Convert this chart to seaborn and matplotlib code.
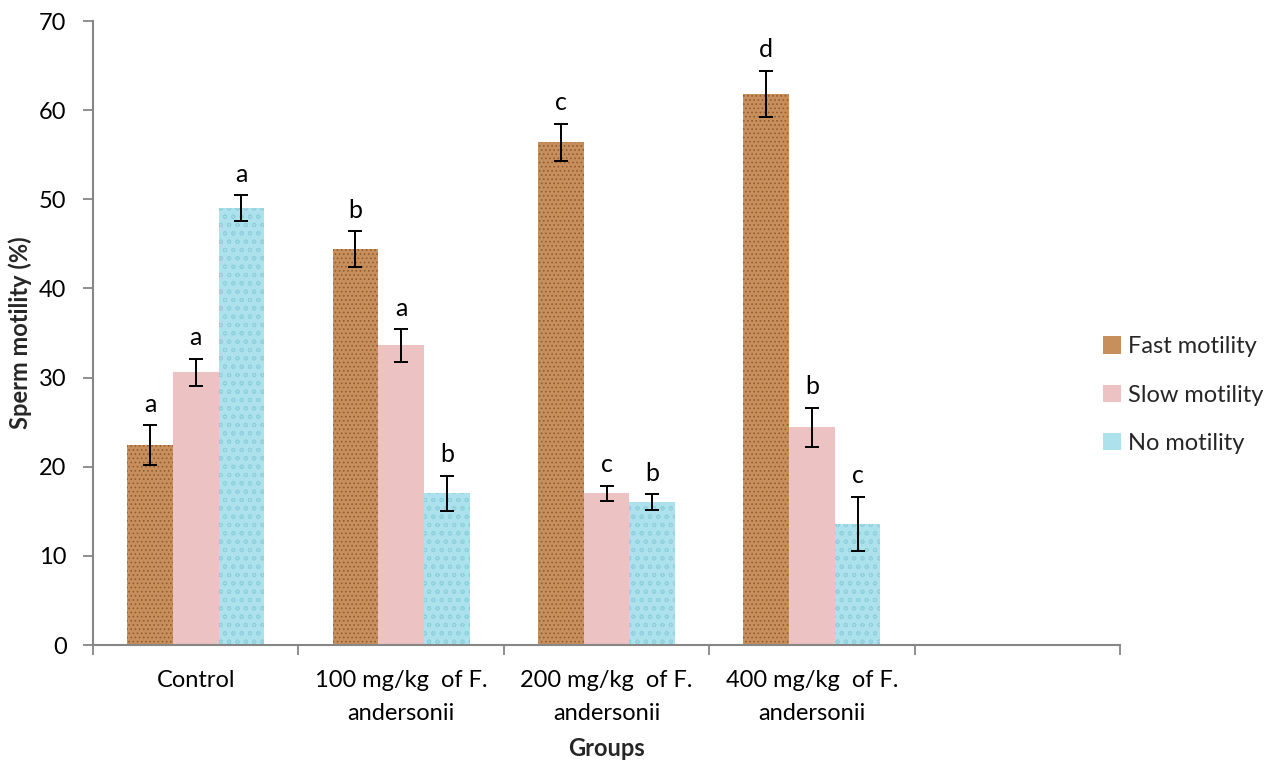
import matplotlib
matplotlib.use("Agg")
import matplotlib.pyplot as plt
import seaborn as sns
import pandas as pd
from matplotlib.ticker import FixedLocator

# ---- data ----
groups = ["Control", "100 mg/kg  of F.\nandersonii", "200 mg/kg  of F.\nandersonii",
          "400 mg/kg  of F.\nandersonii", " "]
series = ["Fast motility", "Slow motility", "No motility"]
fast = [22.4, 44.4, 56.4, 61.8]
slow = [30.6, 33.6, 17.0, 24.4]
nomot = [49.0, 17.0, 16.0, 13.6]
fast_err = [2.25, 2.0, 2.05, 2.6]
slow_err = [1.5, 1.8, 0.85, 2.2]
no_err = [1.45, 2.0, 0.9, 3.0]
fast_letters = ["a", "b", "c", "d"]
slow_letters = ["a", "a", "c", "b"]
no_letters = ["a", "b", "b", "c"]
yticks = [0, 10, 20, 30, 40, 50, 60, 70]

values = [fast, slow, nomot]
errors = [fast_err, slow_err, no_err]
letters = [fast_letters, slow_letters, no_letters]

rows = []
for s, vals in zip(series, values):
    for g, v in zip(groups[:4], vals):
        rows.append({"group": g, "series": s, "value": v})
df = pd.DataFrame(rows)

colors = ["#c78f5b", "#ecc2c2", "#ade2ec"]
hatch_colors = ["#945c30", "#e3b3b3", "#8fd0dd"]
hatches = ["....", "", "oo"]

sns.set_theme(style="white")
plt.rcParams["font.family"] = ["Lato", "DejaVu Sans"]
plt.rcParams["hatch.linewidth"] = 0.7

FS = 17

fig = plt.figure(figsize=(12.79, 7.62), dpi=100)
ax = fig.add_axes([93 / 1279, 1 - 645 / 762, (1120 - 93) / 1279, (645 - 21) / 762])

sns.barplot(data=df, x="group", y="value", hue="series", order=groups,
            hue_order=series, palette=colors, width=0.667, errorbar=None,
            saturation=1, ax=ax, linewidth=0)

bar_containers = list(ax.containers)
for i, cont in enumerate(bar_containers):
    xs, ys = [], []
    for p in cont.patches:
        p.set_hatch(hatches[i])
        p.set_edgecolor(hatch_colors[i])
        p.set_linewidth(0)
        xs.append(p.get_x() + p.get_width() / 2)
        ys.append(p.get_height())
    ax.errorbar(xs, ys, yerr=errors[i], fmt="none", ecolor="black",
                elinewidth=1.4, capsize=5, capthick=1.4, zorder=5)
    for x, y, e, t in zip(xs, ys, errors[i], letters[i]):
        ax.annotate(t, (x, y + e), xytext=(0, 7), textcoords="offset points",
                    ha="center", va="bottom", fontsize=18, color="black")

ax.set_xlim(-0.5, 4.5)
ax.set_ylim(0, 70)
ax.set_yticks(yticks)
ax.set_yticklabels([str(v) for v in yticks], fontsize=FS)
ax.xaxis.set_minor_locator(FixedLocator([-0.5, 0.5, 1.5, 2.5, 3.5, 4.5]))
ax.tick_params(axis="x", which="major", length=0, pad=18, labelsize=FS, colors="black")
ax.tick_params(axis="x", which="minor", length=7, width=1.3, color="#868686", bottom=True)
ax.tick_params(axis="y", which="major", length=7, width=1.3, color="#868686",
               left=True, pad=12, labelcolor="black")
for lab in ax.get_xticklabels():
    lab.set_linespacing(1.7)

for side in ["top", "right"]:
    ax.spines[side].set_visible(False)
for side in ["left", "bottom"]:
    ax.spines[side].set_color("#868686")
    ax.spines[side].set_linewidth(1.5)

ax.set_xlabel("Groups", fontsize=FS, fontweight="bold", va="center")
ax.set_ylabel("Sperm motility (%)", fontsize=FS, fontweight="bold", va="center")
ax.xaxis.set_label_coords(0.5, (645 - 748) / 624)
ax.yaxis.set_label_coords((20 - 93) / 1027, 0.5)

leg = ax.legend(loc="center left", bbox_to_anchor=(1094 / 1279, 1 - 395 / 762),
                bbox_transform=fig.transFigure, frameon=False, fontsize=FS,
                handlelength=0.75, handleheight=0.75, labelspacing=1.15,
                handletextpad=0.3, borderaxespad=0)

fig.savefig("out.png", dpi=100)
